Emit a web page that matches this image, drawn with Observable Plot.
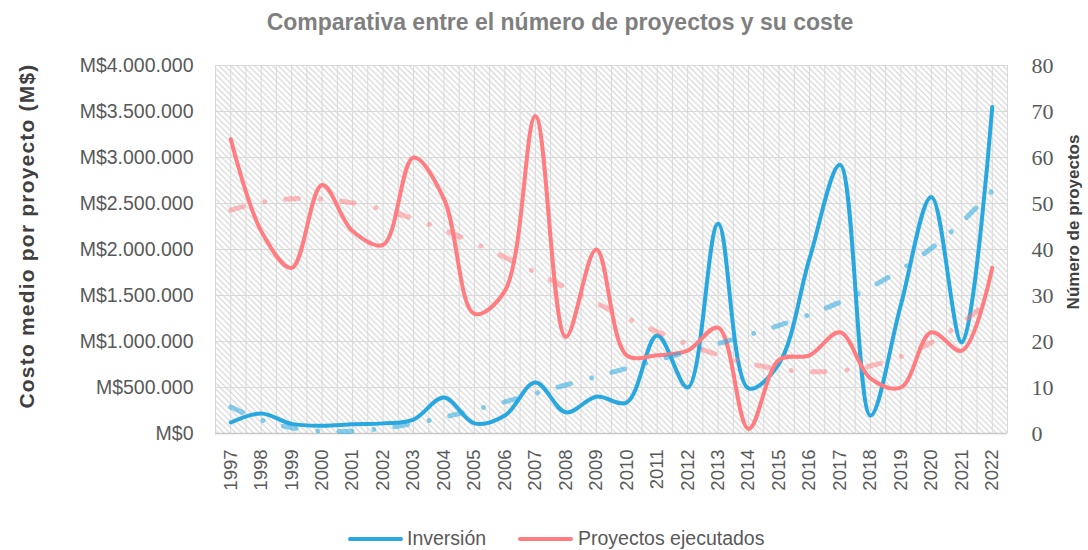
<!DOCTYPE html>
<html>
<head>
<meta charset="utf-8">
<script src="https://cdn.jsdelivr.net/npm/d3@7"></script>
<script src="https://cdn.jsdelivr.net/npm/@observablehq/plot@0.6"></script>
<style>
  body { margin: 0; background: #fff; }
  #wrap { position: relative; width: 1088px; height: 550px; overflow: hidden; font-family: "Liberation Sans", Arial, sans-serif; }
  #title { position: absolute; top: 9px; left: 0; width: 1120px; text-align: center; font-weight: bold; font-size: 23px; color: #7f7f7f; white-space: nowrap; }
  #chart { position: absolute; top: 50px; left: 0; }
  .ytitle { position: absolute; font-weight: bold; color: #404040; white-space: nowrap; transform: translate(-50%, -50%) rotate(-90deg); }
  #legend { position: absolute; top: 527px; left: 0; width: 1088px; height: 24px; font-size: 19.5px; color: #595959; }
  .sw { position: absolute; top: 10px; height: 4px; border-radius: 2px; }
  .lt { position: absolute; top: 0; white-space: nowrap; }
</style>
</head>
<body>
<svg width="0" height="0" style="position:absolute">
  <defs>
    <pattern id="hatch" width="4.2" height="4.2" patternUnits="userSpaceOnUse" patternTransform="rotate(-45)">
      <rect width="4.2" height="4.2" fill="#ffffff"></rect>
      <line x1="1" y1="0" x2="1" y2="4.2" stroke="#dcdcdc" stroke-width="1.4"></line>
    </pattern>
  </defs>
</svg>
<div id="wrap">
  <div id="title">Comparativa entre el número de proyectos y su coste</div>
  <div id="chart"></div>
  <div class="ytitle" style="left:27px; top:236px; font-size:21px; letter-spacing:1.2px;">Costo medio por proyecto (M$)</div>
  <div class="ytitle" style="left:1074px; top:222px; font-size:17px;">Número de proyectos</div>
  <div id="legend">
    <div class="sw" style="left:348px; width:55px; background:#29A8E0;"></div>
    <div class="lt" style="left:407px;">Inversión</div>
    <div class="sw" style="left:518px; width:55px; background:#FF7C80;"></div>
    <div class="lt" style="left:578px;">Proyectos ejecutados</div>
  </div>
</div>
<script>
// ---- Data ----
const years = [1997,1998,1999,2000,2001,2002,2003,2004,2005,2006,2007,2008,2009,2010,2011,2012,2013,2014,2015,2016,2017,2018,2019,2020,2021,2022];
const inversion = [120000,217000,105000,85000,100000,110000,152000,390000,110000,195000,555000,230000,400000,337000,1065000,500000,2280000,490000,760000,1900000,2920000,195000,1400000,2570000,990000,3550000];
const proyectos = [64,44,36,54,44,41,60,51,26,31,69,21,40,17,17,18,23,1,16,17,22,12,10,22,18,36];
const leftTicks = [0,500000,1000000,1500000,2000000,2500000,3000000,3500000,4000000];
const rightTicks = [0,10,20,30,40,50,60,70,80];

const RATIO = 4000000 / 80; // right axis mapped onto left scale

// polynomial trendlines, fitted to the series (least squares)
function polyfit(xs, ys, deg) {
  const n = deg + 1;
  const A = Array.from({length: n}, () => new Array(n + 1).fill(0));
  for (let k = 0; k < xs.length; k++) {
    const p = [];
    for (let i = 0; i < n; i++) p.push(Math.pow(xs[k], i));
    for (let i = 0; i < n; i++) {
      for (let j = 0; j < n; j++) A[i][j] += p[i] * p[j];
      A[i][n] += p[i] * ys[k];
    }
  }
  for (let i = 0; i < n; i++) {
    let m = i;
    for (let r = i + 1; r < n; r++) if (Math.abs(A[r][i]) > Math.abs(A[m][i])) m = r;
    [A[i], A[m]] = [A[m], A[i]];
    for (let r = 0; r < n; r++) {
      if (r === i) continue;
      const f = A[r][i] / A[i][i];
      for (let c = i; c <= n; c++) A[r][c] -= f * A[i][c];
    }
  }
  const coef = A.map((row, i) => row[n] / row[i]);
  return x => coef.reduce((s, c, i) => s + c * Math.pow(x, i), 0);
}
const tIdx = years.map((d, i) => (i - 12.5) / 12.5);
const fBlue = polyfit(tIdx, inversion, 4);
const fRed = polyfit(tIdx, proyectos, 3);

const inv = years.map((y, i) => ({year: y, v: inversion[i]}));
const pro = years.map((y, i) => ({year: y, v: proyectos[i] * RATIO}));
const invTrend = years.map((y, i) => ({year: y, v: fBlue(tIdx[i])}));
const proTrend = years.map((y, i) => ({year: y, v: fRed(tIdx[i]) * RATIO}));

const loc = d3.formatLocale({decimal: ",", thousands: ".", grouping: [3], currency: ["M$", ""]});
const fmt = loc.format("$,.0f");

const halfGrid = d3.range(0, 53).map(i => 1996.5 + i * 0.5);

const chart = Plot.plot({
  width: 1088,
  height: 460,
  marginLeft: 215,
  marginRight: 81,
  marginTop: 15,
  marginBottom: 77,
  style: {color: "#595959", background: "transparent", overflow: "visible", fontFamily: "'Liberation Sans', Arial, sans-serif"},
  x: {type: "linear", domain: [1996.5, 2022.5], axis: null},
  y: {domain: [0, 4000000], axis: null},
  marks: [
    Plot.frame({fill: "url(#hatch)", stroke: null}),
    Plot.gridX(halfGrid, {stroke: "#d9d9d9", strokeOpacity: 1, strokeWidth: 1}),
    Plot.gridY(leftTicks, {stroke: "#d9d9d9", strokeOpacity: 1, strokeWidth: 1}),
    Plot.ruleY([0], {stroke: "#c8c8c8", strokeWidth: 1.5}),
    Plot.axisY(leftTicks, {anchor: "left", tickSize: 0, tickPadding: 22, tickFormat: fmt, fontSize: 19.5, fill: "#595959", label: null}),
    // right-hand axis (Número de proyectos), drawn through the shared y scale
    Plot.text(rightTicks, {y: d => d * RATIO, text: d => String(d), frameAnchor: "right", dx: 24, textAnchor: "start", fontFamily: "'Liberation Serif', Cambria, serif", fontSize: 22, fill: "#595959"}),
    Plot.axisX(years, {anchor: "bottom", tickSize: 0, tickPadding: 16, tickRotate: -90, tickFormat: d => String(d), fontSize: 18.5, fill: "#595959", label: null}),
    Plot.line(inv, {x: "year", y: "v", stroke: "#29A8E0", strokeWidth: 4, curve: "catmull-rom"}),
    Plot.line(pro, {x: "year", y: "v", stroke: "#FF7C80", strokeWidth: 4, curve: "catmull-rom"}),
    Plot.line(invTrend, {x: "year", y: "v", stroke: "#29A8E0", strokeOpacity: 0.55, strokeWidth: 5, strokeLinecap: "round", strokeDasharray: "13,22,0.01,21", curve: "catmull-rom"}),
    Plot.line(proTrend, {x: "year", y: "v", stroke: "#FF7C80", strokeOpacity: 0.5, strokeWidth: 5, strokeLinecap: "round", strokeDasharray: "13,22,0.01,21", curve: "catmull-rom"})
  ]
});
document.getElementById("chart").appendChild(chart);
</script>
</body>
</html>
